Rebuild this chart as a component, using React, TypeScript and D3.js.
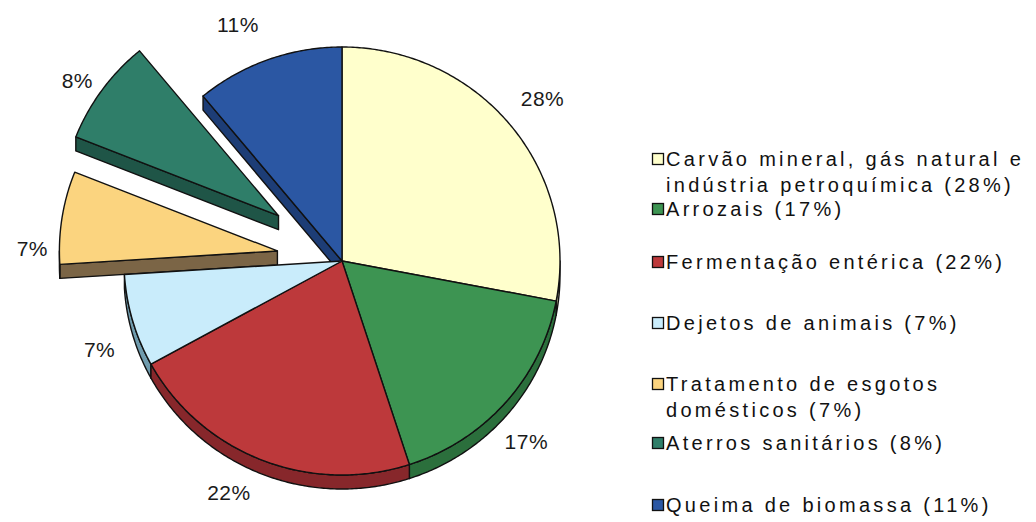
import { useEffect, useRef } from 'react';
import * as d3 from 'd3';

// methane sources, share of total emissions (%)
const categories = [
  'Carvão mineral, gás natural e indústria petroquímica',
  'Arrozais',
  'Fermentação entérica',
  'Dejetos de animais',
  'Tratamento de esgotos domésticos',
  'Aterros sanitários',
  'Queima de biomassa',
];
const shares = [28, 17, 22, 7, 7, 8, 11];
const explode = [0, 0, 0, 0, 0.3, 0.36, 0];
const legendLines = [
  ['Carvão mineral, gás natural e', 'indústria petroquímica (28%)'],
  ['Arrozais (17%)'],
  ['Fermentação entérica (22%)'],
  ['Dejetos de animais (7%)'],
  ['Tratamento de esgotos', 'domésticos (7%)'],
  ['Aterros sanitários (8%)'],
  ['Queima de biomassa (11%)'],
];
const topColors = ['#ffffcc', '#3d9452', '#bd393b', '#c9ecfb', '#fbd47f', '#2f7e69', '#2b57a3'];
const sideColors = ['#b8b88f', '#2b6f3c', '#87272b', '#6f9bad', '#7b6546', '#1f5547', '#1d3d76'];

// layout
const labelShiftDeg = [0.6, 3, 4.4, -3.8, -8, -2, -4];
const legendRowY = [159, 209, 262, 323, 384, 443, 505];

export default function App() {
  const svgRef = useRef<SVGSVGElement>(null);

  useEffect(() => {
    if (!svgRef.current) return;
    const svg = d3.select(svgRef.current);
    svg.selectAll('*').remove();

    const cx = 342, cy = 261, rx = 218, ry = 214, depth = 14;
    const labelR = 258;

    const arcs = d3.pie<number>().sort(null).value(d => d)(shares);
    const onRim = (a: number, ox: number, oy: number, dy = 0): [number, number] =>
      [ox + rx * Math.sin(a), oy - ry * Math.cos(a) + dy];
    const sample = (a0: number, a1: number) => {
      const n = Math.max(2, Math.ceil(Math.abs(a1 - a0) / 0.01));
      return d3.range(n + 1).map(k => a0 + (a1 - a0) * k / n);
    };

    const slices = arcs.map((a, i) => {
      const mid = (a.startAngle + a.endAngle) / 2;
      const dx = explode[i] * rx * Math.sin(mid);
      const dy = -explode[i] * ry * Math.cos(mid);
      return { i, a0: a.startAngle, a1: a.endAngle, mid, dx, dy, ox: cx + dx, oy: cy + dy };
    });

    // side walls, visible ones only
    const walls: { pts: [number, number][]; fill: string }[] = [];
    slices.forEach(s => {
      const fill = sideColors[s.i];
      if (Math.sin(s.a0) < -1e-6) {
        const p = onRim(s.a0, s.ox, s.oy);
        walls.push({ fill, pts: [[s.ox, s.oy], p, [p[0], p[1] + depth], [s.ox, s.oy + depth]] });
      }
      if (Math.sin(s.a1) > 1e-6) {
        const p = onRim(s.a1, s.ox, s.oy);
        walls.push({ fill, pts: [[s.ox, s.oy], p, [p[0], p[1] + depth], [s.ox, s.oy + depth]] });
      }
      const lo = Math.max(s.a0, Math.PI / 2);
      const hi = Math.min(s.a1, Math.PI * 1.5);
      if (lo < hi) {
        const top = sample(lo, hi).map(a => onRim(a, s.ox, s.oy));
        const bottom = sample(hi, lo).map(a => onRim(a, s.ox, s.oy, depth));
        walls.push({ fill, pts: [...top, ...bottom] });
      }
    });
    walls.sort((a, b) => d3.mean(a.pts, p => p[1])! - d3.mean(b.pts, p => p[1])!);

    const poly = d3.line();
    const g = svg.append('g');

    g.selectAll('.wall')
      .data(walls)
      .enter()
      .append('path')
      .attr('class', 'wall')
      .attr('d', d => poly(d.pts) + 'Z')
      .attr('fill', d => d.fill)
      .attr('stroke', '#111')
      .attr('stroke-width', 1.4)
      .attr('stroke-linejoin', 'round');

    g.selectAll('.face')
      .data(slices)
      .enter()
      .append('path')
      .attr('class', 'face')
      .attr('d', s => {
        const pts: [number, number][] = [[s.ox, s.oy], ...sample(s.a0, s.a1).map(a => onRim(a, s.ox, s.oy))];
        return poly(pts) + 'Z';
      })
      .attr('fill', s => topColors[s.i])
      .attr('stroke', '#111')
      .attr('stroke-width', 1.4)
      .attr('stroke-linejoin', 'round');

    // percentage labels
    g.selectAll('.pct')
      .data(slices)
      .enter()
      .append('text')
      .attr('class', 'pct')
      .attr('x', s => cx + 0.8 * s.dx + labelR * Math.sin(s.mid + labelShiftDeg[s.i] * Math.PI / 180))
      .attr('y', s => cy + 0.8 * s.dy - labelR * Math.cos(s.mid + labelShiftDeg[s.i] * Math.PI / 180))
      .attr('text-anchor', 'middle')
      .attr('dominant-baseline', 'central')
      .attr('fill', '#1a1a1a')
      .style('font-family', '"Liberation Sans", Arial, sans-serif')
      .style('font-size', '21px')
      .style('letter-spacing', '0.5px')
      .text(s => `${shares[s.i]}%`);

    // legend
    const legend = svg.append('g').attr('transform', 'translate(652,0)');
    const rows = legend.selectAll('.row')
      .data(categories)
      .enter()
      .append('g')
      .attr('class', 'row')
      .attr('transform', (_, i) => `translate(0,${legendRowY[i]})`);

    rows.append('rect')
      .attr('x', 0.5).attr('y', -5.5)
      .attr('width', 11).attr('height', 11)
      .attr('fill', (_, i) => topColors[i])
      .attr('stroke', '#111')
      .attr('stroke-width', 1.3);

    rows.each(function (_, i) {
      const t = d3.select(this).append('text')
        .attr('fill', '#111')
        .style('font-family', '"Liberation Sans", Arial, sans-serif')
        .style('font-size', '20px')
        .style('letter-spacing', '3.3px');
      legendLines[i].forEach((line, k) => {
        t.append('tspan')
          .attr('x', 14)
          .attr('y', k * 26)
          .attr('dominant-baseline', 'central')
          .text(line);
      });
    });
  }, []);

  return (
    <svg
      ref={svgRef}
      width={1036}
      height={522}
      style={{ position: 'absolute', left: 0, top: 0, background: '#fff' }}
    />
  );
}
